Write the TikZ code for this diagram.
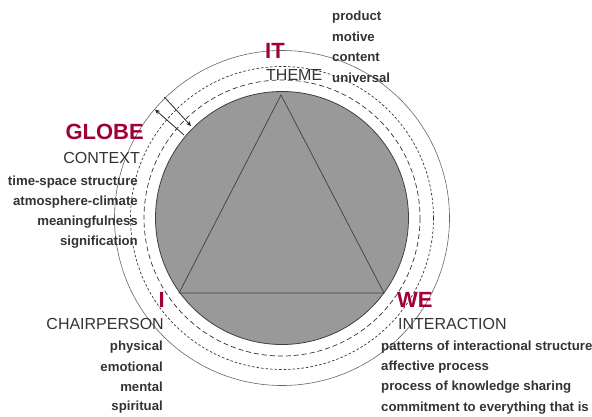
\documentclass[tikz,border=0pt]{standalone}
\usepackage{fontspec}
\setmainfont{Liberation Sans}
\usetikzlibrary{arrows.meta}
\definecolor{tcired}{RGB}{160,0,52}
\definecolor{txtgray}{RGB}{51,51,51}
\definecolor{discgray}{RGB}{153,153,153}
\tikzset{
  head/.style={font=\fontsize{22}{22}\selectfont\bfseries, text=tcired, inner sep=0pt},
  sub/.style={font=\fontsize{16}{16}\selectfont, text=txtgray, inner sep=0pt},
  item/.style={font=\fontsize{13.2}{13.2}\selectfont\bfseries, text=txtgray, inner sep=0pt},
  flow/.style={black!85, line width=0.8pt, -{Stealth[length=5pt,width=4.5pt]}},
}
\begin{document}
\begin{tikzpicture}[x=1pt,y=-1pt]
\useasboundingbox (0,0) rectangle (592,416);
\coordinate (c) at (282,218);
% rings
\draw[gray!80!black, line width=0.6pt] (c) circle[radius=167.5];
\draw[black!80, line width=0.7pt, dash pattern=on 2.5pt off 2pt] (c) circle[radius=151.5];
\draw[black!80, line width=0.7pt, dash pattern=on 5pt off 3pt] (c) circle[radius=138];
\draw[black!75, fill=discgray, line width=0.8pt] (c) circle[radius=126.5];
% triangle
\coordinate (ta) at (281,95);
\coordinate (tl) at (179,293);
\coordinate (tr) at (384,293);
\draw[black!75, line width=0.7pt] (ta) -- (tl) -- (tr) -- cycle;
% two parallel arrows across the ring
\coordinate (a1) at (164.3,97);
\coordinate (a2) at (191,126);
\coordinate (b1) at (184,135);
\coordinate (b2) at (155,109.5);
\draw[flow] (a1) -- (a2);
\draw[flow] (b1) -- (b2);
% IT
\node[head, anchor=west] (it) at (265,51) {IT};
\node[sub, anchor=west] (theme) at (266,74.5) {THEME};
\node[item, anchor=west] (i1) at (332,17) {product};
\node[item, anchor=west] (i2) at (332,37) {motive};
\node[item, anchor=west] (i3) at (332,57) {content};
\node[item, anchor=west] (i4) at (332,77.5) {universal};
% GLOBE
\node[head, anchor=east] (globe) at (144,132) {GLOBE};
\node[sub, anchor=east] (context) at (140,157.5) {CONTEXT};
\node[item, anchor=east] (g1) at (138,182) {time-space structure};
\node[item, anchor=east] (g2) at (138,202) {atmosphere-climate};
\node[item, anchor=east] (g3) at (138,222) {meaningfulness};
\node[item, anchor=east] (g4) at (138,242) {signification};
% I
\node[head, anchor=east] (ii) at (165,300) {I};
\node[sub, anchor=east] (chair) at (164,323.5) {CHAIRPERSON};
\node[item, anchor=east] (p1) at (163,347) {physical};
\node[item, anchor=east] (p2) at (163,367) {emotional};
\node[item, anchor=east] (p3) at (163,387) {mental};
\node[item, anchor=east] (p4) at (163,407) {spiritual};
% WE
\node[head, anchor=west] (we) at (397,300) {WE};
\node[sub, anchor=west] (inter) at (398,323.5) {INTERACTION};
\node[item, anchor=west] (w1) at (381,347) {patterns of interactional structure};
\node[item, anchor=west] (w2) at (381,367) {affective process};
\node[item, anchor=west] (w3) at (381,387) {process of knowledge sharing};
\node[item, anchor=west] (w4) at (381,408) {commitment to everything that is};
\end{tikzpicture}
\end{document}
